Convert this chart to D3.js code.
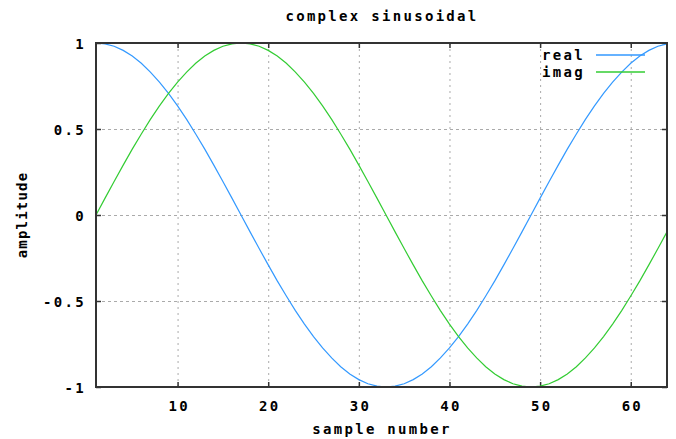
<!DOCTYPE html>
<html>
<head>
<meta charset="utf-8">
<script src="https://cdn.jsdelivr.net/npm/d3@7"></script>
<style>
  body { margin: 0; background: #fff; }
  svg text { font-family: "DejaVu Sans Mono", monospace; font-weight: bold; font-size: 14px; letter-spacing: 2.3px; fill: #000; }
</style>
</head>
<body>
<svg></svg>
<script>
let samples = d3.range(1, 65)

let realValues = [
  1.000, 0.995, 0.981, 0.957, 0.924, 0.882, 0.831, 0.773, 0.707, 0.634, 0.556, 0.471, 0.383, 0.290, 0.195, 0.098,
  0.000, -0.098, -0.195, -0.290, -0.383, -0.471, -0.556, -0.634, -0.707, -0.773, -0.831, -0.882, -0.924, -0.957, -0.981, -0.995,
  -1.000, -0.995, -0.981, -0.957, -0.924, -0.882, -0.831, -0.773, -0.707, -0.634, -0.556, -0.471, -0.383, -0.290, -0.195, -0.098,
  0.000, 0.098, 0.195, 0.290, 0.383, 0.471, 0.556, 0.634, 0.707, 0.773, 0.831, 0.882, 0.924, 0.957, 0.981, 0.995
]

let imagValues = [
  0.000, 0.098, 0.195, 0.290, 0.383, 0.471, 0.556, 0.634, 0.707, 0.773, 0.831, 0.882, 0.924, 0.957, 0.981, 0.995,
  1.000, 0.995, 0.981, 0.957, 0.924, 0.882, 0.831, 0.773, 0.707, 0.634, 0.556, 0.471, 0.383, 0.290, 0.195, 0.098,
  0.000, -0.098, -0.195, -0.290, -0.383, -0.471, -0.556, -0.634, -0.707, -0.773, -0.831, -0.882, -0.924, -0.957, -0.981, -0.995,
  -1.000, -0.995, -0.981, -0.957, -0.924, -0.882, -0.831, -0.773, -0.707, -0.634, -0.556, -0.471, -0.383, -0.290, -0.195, -0.098
]

let xTicks = [10, 20, 30, 40, 50, 60]
let yTicks = [-1, -0.5, 0, 0.5, 1]
let yTickLabels = ['-1', '-0.5', '0', '0.5', '1']

let seriesNames = ['real', 'imag']
let seriesColors = ['#3399ff', '#33cc33']

let width = 676
let height = 439
let plotLeft = 96
let plotRight = 667
let plotTop = 43
let plotBottom = 387

let svg = d3.select('svg')
    .attr('width', width)
    .attr('height', height)

let xScale = d3.scaleLinear().domain([1, 64]).range([plotLeft, plotRight])
let yScale = d3.scaleLinear().domain([-1, 1]).range([plotBottom, plotTop])

// grid
svg.append('g')
    .attr('transform', 'translate(0,' + plotBottom + ')')
    .call(d3.axisBottom(xScale).tickValues(xTicks).tickSize(-(plotBottom - plotTop)).tickFormat(''))
    .call(g => g.select('.domain').remove())
    .selectAll('line')
    .attr('stroke', '#aaa')
    .attr('stroke-dasharray', '2,4')

svg.append('g')
    .attr('transform', 'translate(' + plotLeft + ',0)')
    .call(d3.axisLeft(yScale).tickValues(yTicks).tickSize(-(plotRight - plotLeft)).tickFormat(''))
    .call(g => g.select('.domain').remove())
    .selectAll('line')
    .attr('stroke', '#aaa')
    .attr('stroke-dasharray', '3,3')

// axes with inward ticks
let xAxis = svg.append('g')
    .attr('transform', 'translate(0,' + plotBottom + ')')
    .call(d3.axisBottom(xScale).tickValues(xTicks).tickSize(-5).tickPadding(14))
xAxis.select('.domain').remove()
xAxis.selectAll('text').attr('font-size', null).attr('font-family', null).attr('dx', '0.08em')

svg.append('g')
    .attr('transform', 'translate(0,' + plotTop + ')')
    .call(d3.axisTop(xScale).tickValues(xTicks).tickSize(-5).tickFormat(''))
    .call(g => g.select('.domain').remove())

let yAxis = svg.append('g')
    .attr('transform', 'translate(' + plotLeft + ',0)')
    .call(d3.axisLeft(yScale).tickValues(yTicks).tickSize(-5).tickPadding(10)
        .tickFormat((d, i) => yTickLabels[i]))
yAxis.select('.domain').remove()
yAxis.selectAll('text').attr('font-size', null).attr('font-family', null).attr('dy', '0.36em')

svg.append('g')
    .attr('transform', 'translate(' + plotRight + ',0)')
    .call(d3.axisRight(yScale).tickValues(yTicks).tickSize(-5).tickFormat(''))
    .call(g => g.select('.domain').remove())

svg.selectAll('.tick line').filter(function () { return !this.getAttribute('stroke-dasharray') })
    .attr('stroke', '#333')
    .attr('stroke-width', 1.5)

// series
let line = d3.line()
    .x((d, i) => xScale(samples[i]))
    .y(d => yScale(d))

;[realValues, imagValues].forEach((values, k) => {
    svg.append('path')
        .datum(values)
        .attr('d', line)
        .attr('fill', 'none')
        .attr('stroke', seriesColors[k])
        .attr('stroke-width', 1.2)
})

// frame
svg.append('rect')
    .attr('x', plotLeft)
    .attr('y', plotTop)
    .attr('width', plotRight - plotLeft)
    .attr('height', plotBottom - plotTop)
    .attr('fill', 'none')
    .attr('stroke', '#333')
    .attr('stroke-width', 2)

// legend
seriesNames.forEach((name, k) => {
    let ly = 55 + k * 17
    svg.append('text')
        .attr('x', 542)
        .attr('y', ly + 5)
        .text(name)
    svg.append('line')
        .attr('x1', 596)
        .attr('x2', 645)
        .attr('y1', ly)
        .attr('y2', ly)
        .attr('stroke', seriesColors[k])
        .attr('stroke-width', 1.5)
})

// titles
svg.append('text')
    .attr('x', 382)
    .attr('y', 21)
    .attr('text-anchor', 'middle')
    .text('complex sinusoidal')

svg.append('text')
    .attr('x', 382)
    .attr('y', 434)
    .attr('text-anchor', 'middle')
    .text('sample number')

svg.append('text')
    .attr('transform', 'translate(27,215) rotate(-90)')
    .attr('text-anchor', 'middle')
    .style('letter-spacing', '1.2px')
    .text('amplitude')
</script>
</body>
</html>
